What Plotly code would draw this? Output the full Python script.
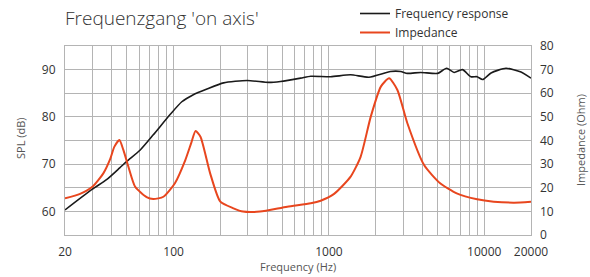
import plotly.graph_objects as go

# ---- data ----
freq_spl = [20, 30, 37, 45, 50, 61, 74, 95, 113, 134, 164, 210, 298, 410, 488, 658, 764,
            1026, 1378, 1810, 2490, 2900, 3200, 3900, 5020, 5720, 6400, 7240, 8200, 9000,
            9760, 11060, 13800, 17240, 20000]
spl_db = [60.3, 64.7, 66.7, 69.2, 70.6, 73.0, 76.2, 80.5, 83.2, 84.7, 85.9, 87.2, 87.7, 87.3,
          87.5, 88.2, 88.6, 88.5, 88.9, 88.4, 89.6, 89.6, 89.2, 89.4, 89.2, 90.3, 89.4, 90.0,
          88.5, 88.5, 87.9, 89.3, 90.3, 89.5, 88.2]

freq_imp = [20, 25, 30, 35.3, 39, 41.6, 44.8, 47.5, 51.2, 56.6, 67, 74, 86, 102, 119, 130,
            138.5, 149, 172, 200, 243, 280, 360, 539, 764, 885, 1080, 1380, 1600, 1860, 2160,
            2440, 2760, 3200, 4100, 5200, 6650, 9000, 11500, 15600, 20000]
imp_ohm = [15.5, 17.4, 20.4, 26.1, 32.0, 37.4, 40.2, 36.0, 28.9, 20.4, 16.0, 15.2, 16.2, 21.9,
           31.7, 39.0, 44.0, 41.6, 26.1, 14.1, 11.3, 9.9, 9.9, 12.0, 13.4, 14.5, 17.4, 24.7,
           33.1, 50.1, 62.8, 66.3, 61.4, 47.3, 29.6, 21.9, 17.6, 15.1, 14.1, 13.7, 14.1]

x_major = [20, 100, 1000, 10000, 20000]
x_minor = [30, 40, 50, 60, 70, 80, 90, 200, 300, 400, 500, 600, 700, 800, 900,
           2000, 3000, 4000, 5000, 6000, 7000, 8000, 9000]
spl_ticks = [60, 70, 80, 90]
imp_ticks = [0, 10, 20, 30, 40, 50, 60, 70, 80]

FONT = "Open Sans"
GRID = "#b4b4b4"
TXT = "#333333"

W, H = 590, 277
PL, PR, PT, PB = 65, 531, 46, 235   # plot box in page pixels
L, T, R, B = PL, PT, W - PR, H - PB
pw, ph = W - L - R, H - T - B


def px2paper(px, py):
    return (px - L) / pw, 1 - (py - T) / ph


fig = go.Figure()
fig.add_trace(go.Scatter(x=freq_spl, y=spl_db, name="Frequency response", mode="lines",
                         line=dict(color="#1a1a1a", width=1.6, shape="spline", smoothing=0.6),
                         yaxis="y"))
fig.add_trace(go.Scatter(x=freq_imp, y=imp_ohm, name="Impedance", mode="lines",
                         line=dict(color="#e8461e", width=2, shape="spline", smoothing=0.6),
                         yaxis="y2"))

lx, ly = px2paper(355, -1)
ann = []
for text, x, y, ang in [("SPL (dB)", 20, 138, -90), ("Impedance (Ohm)", 580, 140, -90),
                        ("Frequency (Hz)", 298, 266, 0)]:
    ax_, ay_ = px2paper(x, y)
    ann.append(dict(text=text, x=ax_, y=ay_, xref="paper", yref="paper", showarrow=False,
                    textangle=ang, xanchor="center", yanchor="middle",
                    font=dict(size=11, color="#555555")))

fig.update_layout(
    width=W, height=H,
    margin=dict(l=L, r=R, t=T, b=B, autoexpand=False),
    paper_bgcolor="white", plot_bgcolor="white",
    font=dict(family=FONT, color=TXT, size=12),
    title=dict(text="Frequenzgang 'on axis'", x=65 / W, xanchor="left",
               xref="container", y=1 - 18 / H, yanchor="middle", yref="container",
               font=dict(family=FONT, size=19, color="#333333", weight=300)),
    showlegend=True,
    legend=dict(x=lx, y=ly, xanchor="left", yanchor="top", orientation="v",
                font=dict(size=12, color="#333333"), bgcolor="rgba(0,0,0,0)",
                itemwidth=30, tracegroupgap=0),
    xaxis=dict(type="log", range=[1.30103, 4.30103], tickvals=x_major,
               ticktext=[str(v) for v in x_major], showgrid=True, gridcolor=GRID, gridwidth=1,
               minor=dict(tickvals=x_minor, showgrid=True, gridcolor=GRID, gridwidth=1),
               showline=True, linecolor=GRID, mirror=True, zeroline=False,
               ticks="", ticklabelstandoff=6, tickfont=dict(size=12, color=TXT)),
    yaxis=dict(range=[55, 95], tickvals=spl_ticks, showgrid=False, zeroline=False,
               showline=True, linecolor=GRID, mirror=True, ticks="",
               ticklabelstandoff=6, tickfont=dict(size=12, color=TXT)),
    yaxis2=dict(range=[0, 80], tickvals=imp_ticks, overlaying="y", side="right",
                showgrid=True, gridcolor=GRID, gridwidth=1, zeroline=False,
                ticks="", ticklabelstandoff=8, tickfont=dict(size=12, color=TXT)),
    annotations=ann,
)

fig.write_html("out.html", config={"displayModeBar": False},
               post_script="document.body.style.margin='0';"
                           "document.body.style.overflow='hidden';")
